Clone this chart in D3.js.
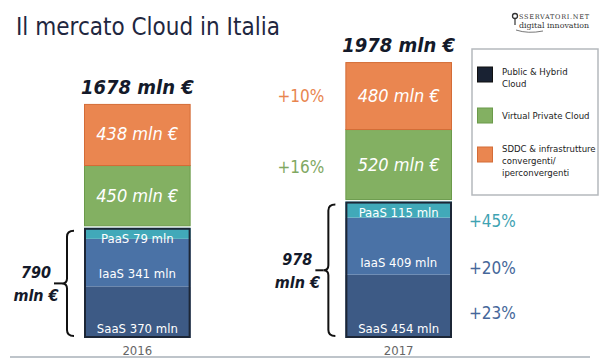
<!DOCTYPE html>
<html>
<head>
<meta charset="utf-8">
<script src="https://cdn.jsdelivr.net/npm/d3@7"></script>
<style>
  body { margin: 0; background: #fff; }
  svg { display: block; font-family: "DejaVu Sans", sans-serif; }
</style>
</head>
<body>
<div id="chart"></div>
<script>
// data (mln €)
const years = ["2016", "2017"];
const saas = [370, 454];
const iaas = [341, 409];
const paas = [79, 115];
const vpc = [450, 520];
const sddc = [438, 480];
const totals = [1678, 1978];
const publicTotals = [790, 978];
const growthLeft = [["+10%", "sddc"], ["+16%", "vpc"]];
const growthRight = [["+45%", "paas"], ["+20%", "iaas"], ["+23%", "saas"]];
const legendItems = [
  { key: "pub", lines: ["Public & Hybrid", "Cloud"] },
  { key: "vpc", lines: ["Virtual Private Cloud"] },
  { key: "sddc", lines: ["SDDC & infrastrutture", "convergenti/", "iperconvergenti"] }
];

const W = 600, H = 360;
const fill = { saas: "#3d5a85", iaas: "#4a72a6", paas: "#41a9b9", vpc: "#83b062", sddc: "#ea8650", pub: "#192233" };
const stroke = { sddc: "#d46c37", vpc: "#6b9a4a", pub: "#1c2636" };
const textCol = { sddc: "#e8854f", vpc: "#7fa862", paas: "#3fa3b2", iaas: "#45679a", saas: "#45679a" };
const cond = "'DejaVu Sans Condensed', 'DejaVu Sans', sans-serif";

const svg = d3.select("#chart").append("svg").attr("width", W).attr("height", H);

const y = d3.scaleLinear().domain([0, 2000]).range([338, 59]);
const x = d3.scaleBand().domain(years).range([84, 452]).paddingInner(0.592).paddingOuter(0);
const bw = x.bandwidth();

// title
svg.append("text").attr("x", 16).attr("y", 35)
  .attr("font-size", 24).attr("fill", "#1f2740").attr("font-family", cond)
  .text("Il mercato Cloud in Italia");

// logo
const logo = svg.append("g").attr("font-family", "'DejaVu Serif', serif").attr("fill", "#333");
logo.append("circle").attr("cx", 515).attr("cy", 16).attr("r", 2.5).attr("fill", "none").attr("stroke", "#333").attr("stroke-width", 1.3);
logo.append("line").attr("x1", 515).attr("x2", 515).attr("y1", 18.5).attr("y2", 25).attr("stroke", "#333").attr("stroke-width", 1.2);
logo.append("text").attr("x", 519).attr("y", 19).attr("font-size", 6.5)
  .attr("textLength", 70).attr("lengthAdjust", "spacing").text("SSERVATORI.NET");
logo.append("text").attr("x", 519).attr("y", 28).attr("font-size", 8)
  .attr("textLength", 70).attr("lengthAdjust", "spacingAndGlyphs").text("digital innovation");
logo.append("path").attr("d", "M516,30 Q528,34 543,31").attr("fill", "none").attr("stroke", "#555").attr("stroke-width", 0.8);

// axis line
svg.append("line").attr("x1", 10).attr("x2", 590).attr("y1", 357).attr("y2", 357)
  .attr("stroke", "#a9b0b8").attr("stroke-width", 1.5);

years.forEach((yr, i) => {
  const x0 = x(yr), cx = x0 + bw / 2;
  const pubTop = y(publicTotals[i]);
  const vpcTop = y(publicTotals[i] + vpc[i]);
  const topY = y(totals[i]);

  // public sub-segments
  let base = 0;
  [["saas", saas[i]], ["iaas", iaas[i]], ["paas", paas[i]]].forEach(([k, v]) => {
    svg.append("rect").attr("x", x0).attr("width", bw)
      .attr("y", y(base + v)).attr("height", y(base) - y(base + v))
      .attr("fill", fill[k]);
    base += v;
  });
  svg.append("rect").attr("x", x0 + 1).attr("y", pubTop + 1).attr("width", bw - 2).attr("height", y(0) - pubTop - 2)
    .attr("fill", "none").attr("stroke", stroke.pub).attr("stroke-width", 2);

  // virtual private cloud
  svg.append("rect").attr("x", x0 + 0.5).attr("y", vpcTop + 0.5).attr("width", bw - 1).attr("height", pubTop - vpcTop - 2.5)
    .attr("fill", fill.vpc).attr("stroke", stroke.vpc).attr("stroke-width", 1);
  // sddc
  svg.append("rect").attr("x", x0 + 0.5).attr("y", topY + 0.5).attr("width", bw - 1).attr("height", vpcTop - topY)
    .attr("fill", fill.sddc).attr("stroke", stroke.sddc).attr("stroke-width", 1);

  // segment labels
  const segLab = svg.append("g").attr("fill", "#fff").attr("text-anchor", "middle").attr("font-family", cond);
  segLab.append("text").attr("x", cx).attr("y", (topY + vpcTop) / 2 + 6)
    .attr("font-size", 18).attr("font-style", "italic").text(sddc[i] + " mln €");
  segLab.append("text").attr("x", cx).attr("y", (vpcTop + pubTop) / 2 + 6)
    .attr("font-size", 18).attr("font-style", "italic").text(vpc[i] + " mln €");
  segLab.append("text").attr("x", cx).attr("y", pubTop + 15).attr("font-size", 13).text("PaaS " + paas[i] + " mln");
  segLab.append("text").attr("x", cx).attr("y", y(saas[i]) - 8).attr("font-size", 13).text("IaaS " + iaas[i] + " mln");
  segLab.append("text").attr("x", cx).attr("y", y(0) - 5).attr("font-size", 13).text("SaaS " + saas[i] + " mln");

  // total label
  svg.append("text").attr("x", cx).attr("y", topY - 10).attr("text-anchor", "middle").attr("font-family", cond)
    .attr("font-size", 20).attr("font-style", "italic").attr("font-weight", "bold").attr("fill", "#141a2a")
    .text(totals[i] + " mln €");

  // year label
  svg.append("text").attr("x", cx).attr("y", 355).attr("text-anchor", "middle").attr("font-family", cond)
    .attr("font-size", 13).attr("fill", "#666").text(yr);

  // brace for public total
  const bx = x0 - 17, b0 = pubTop + 3, b1 = y(0) - 2, bm = (b0 + b1) / 2;
  svg.append("path")
    .attr("d", `M${bx + 7},${b0} Q${bx},${b0} ${bx},${b0 + 6} L${bx},${bm - 5} Q${bx},${bm} ${bx - 5},${bm} ` +
      `Q${bx},${bm} ${bx},${bm + 5} L${bx},${b1 - 6} Q${bx},${b1} ${bx + 7},${b1}`)
    .attr("fill", "none").attr("stroke", "#111").attr("stroke-width", 2);
  svg.append("line").attr("x1", bx - 13).attr("x2", bx - 5).attr("y1", bm).attr("y2", bm).attr("stroke", "#111").attr("stroke-width", 2);
  const pl = svg.append("text").attr("text-anchor", "middle").attr("font-family", cond)
    .attr("font-size", 16).attr("font-style", "italic").attr("font-weight", "bold").attr("fill", "#141a2a");
  pl.append("tspan").attr("x", bx - 31).attr("y", bm - 5).text(publicTotals[i]);
  pl.append("tspan").attr("x", bx - 31).attr("y", bm + 18).text("mln €");
});

// growth labels for 2017
const x17 = x("2017");
const segMid = {
  sddc: (y(totals[1]) + y(publicTotals[1] + vpc[1])) / 2,
  vpc: (y(publicTotals[1] + vpc[1]) + y(publicTotals[1])) / 2 + 2,
  paas: y(publicTotals[1]) + 19,
  iaas: y(saas[1]) - 7,
  saas: y(saas[1] / 2) + 7
};
growthLeft.forEach(([t, k]) => {
  svg.append("text").attr("x", x17 - 21).attr("y", segMid[k] + 6).attr("text-anchor", "end")
    .attr("font-family", cond).attr("font-size", 17).attr("fill", textCol[k]).text(t);
});
growthRight.forEach(([t, k]) => {
  svg.append("text").attr("x", x17 + bw + 17).attr("y", segMid[k] + 6)
    .attr("font-family", cond).attr("font-size", 17).attr("fill", textCol[k]).text(t);
});

// legend
const lg = svg.append("g").attr("transform", "translate(472,49)");
lg.append("rect").attr("width", 126).attr("height", 146).attr("fill", "#fff").attr("stroke", "#b5b9bd").attr("stroke-width", 1.5);
const rowY = [18, 59, 98];
const textDy = [8, 11, 5];
legendItems.forEach((d, i) => {
  lg.append("rect").attr("x", 5.5).attr("y", rowY[i]).attr("width", 15).attr("height", 15)
    .attr("fill", fill[d.key]).attr("stroke", d.key === "pub" ? "#111" : stroke[d.key]).attr("stroke-width", 1);
  const t = lg.append("text").attr("font-family", cond).attr("font-size", 9.5).attr("fill", "#222");
  d.lines.forEach((l, j) => {
    t.append("tspan").attr("x", 30).attr("y", rowY[i] + textDy[i] + j * 12).text(l);
  });
});
</script>
</body>
</html>
